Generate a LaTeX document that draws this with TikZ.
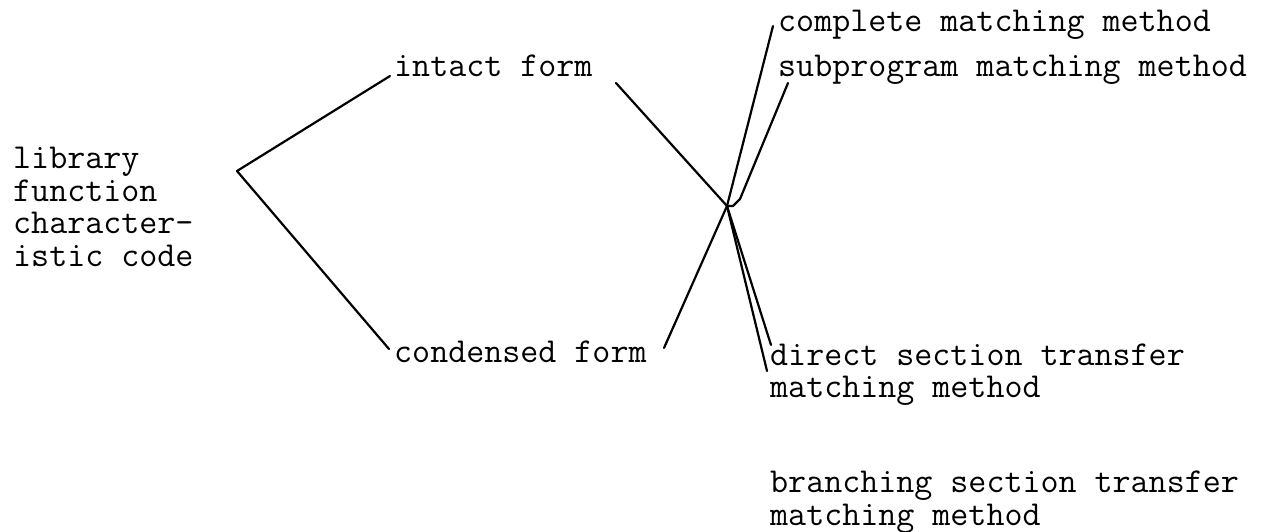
\documentclass[tikz,border=0pt]{standalone}
\begin{document}
\begin{tikzpicture}[x=1pt,y=-1pt,
  lbl/.style={anchor=base west,inner sep=0pt,align=left,font=\ttfamily\fontsize{35}{32.5}\selectfont},
  conn/.style={line width=2.2pt,line cap=round,line join=round}]
\useasboundingbox (0,0) rectangle (1280,531);
% labels (multi-line labels are placed by the baseline of their last line)
\node[lbl] (lib) at (13,266) {library\\function\\character-\\istic code};
\node[lbl] (intact) at (394,76) {intact form};
\node[lbl] (cond) at (394,362) {condensed form};
\node[lbl] (comp) at (778,31) {complete matching method};
\node[lbl] (sub) at (778,76) {subprogram matching method};
\node[lbl] (direct) at (770,397.5) {direct section transfer\\matching method};
\node[lbl] (branch) at (770,525) {branching section transfer\\matching method};
% points
\coordinate (R) at (237,171);
\coordinate (J) at (727,206);
\coordinate (iS) at (390,76);
\coordinate (cS) at (389,349);
\coordinate (iE) at (616,83);
\coordinate (cE) at (664,348);
\coordinate (compE) at (773,26);
\coordinate (subE) at (788,83);
\coordinate (subK) at (740,199);
\coordinate (dA) at (771,345);
\coordinate (dB) at (767,371);
% connectors
\draw[conn] (R) -- (iS);
\draw[conn] (R) -- (cS);
\draw[conn] (iE) -- (J);
\draw[conn] (cE) -- (J);
\draw[conn] (compE) -- (J);
\draw[conn] (subE) -- (subK) -- (733,206) -- (J);
\draw[conn] (J) -- (dA);
\draw[conn] (J) -- (dB);
\end{tikzpicture}
\end{document}
